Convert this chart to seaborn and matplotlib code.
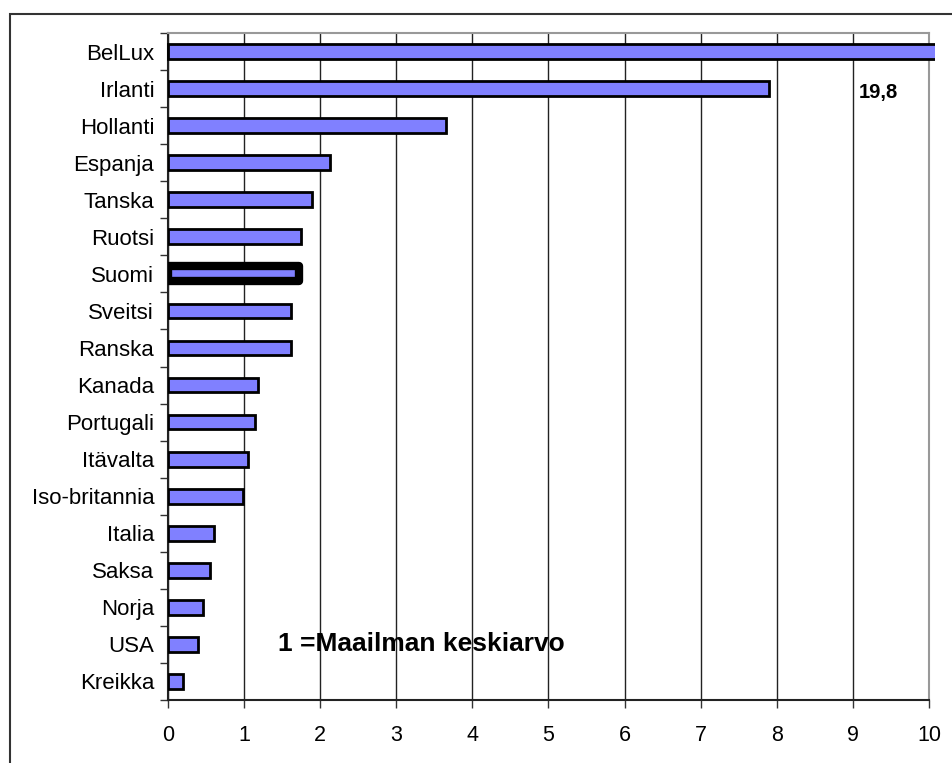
import numpy as np
import pandas as pd
import seaborn as sns
import matplotlib.pyplot as plt
from matplotlib.patches import Rectangle
from matplotlib.transforms import Bbox, TransformedBbox

# data
countries = ["BelLux", "Irlanti", "Hollanti", "Espanja", "Tanska", "Ruotsi", "Suomi",
             "Sveitsi", "Ranska", "Kanada", "Portugali", "Itävalta", "Iso-britannia",
             "Italia", "Saksa", "Norja", "USA", "Kreikka"]
values = [19.8, 7.9, 3.65, 2.13, 1.89, 1.75, 1.72, 1.62, 1.62, 1.18, 1.14, 1.05,
          0.99, 0.6, 0.55, 0.46, 0.40, 0.2]
xticks = list(range(0, 11))

df = pd.DataFrame({"maa": countries, "arvo": values})

sns.set_style("white")
plt.rcParams["font.family"] = ["Liberation Sans", "DejaVu Sans"]
plt.rcParams["text.color"] = "black"
plt.rcParams["xtick.color"] = "black"
plt.rcParams["ytick.color"] = "black"

fig = plt.figure(figsize=(9.52, 7.63), dpi=100)
ax = fig.add_axes([0.1765, 0.0826, 0.7993, 0.8741])

sns.barplot(data=df, x="arvo", y="maa", orient="h", color="#8080FF", saturation=1,
            edgecolor="black", linewidth=2, width=0.4, ax=ax, zorder=3)

# Suomi highlighted with a thick border; BelLux runs a little past the frame
for p, c in zip(ax.patches, countries):
    if c == "Suomi":
        p.set_linewidth(6)
        p.set_joinstyle("round")
    if c == "BelLux":
        p.set_clip_box(TransformedBbox(Bbox([[-0.1, -0.5], [10.08, 17.5]]), ax.transData))

ax.set_xlim(0, 10)
ax.set_ylim(17.5, -0.5)
ax.set_xticks(xticks)
ax.set_xticklabels([str(t) for t in xticks])
ax.set_xlabel("")
ax.set_ylabel("")
ax.tick_params(axis="x", labelsize=15.5, length=6, width=1, color="#333333",
               direction="out", pad=12, bottom=True)
ax.tick_params(axis="y", which="major", labelsize=16, length=0, pad=10)
ax.set_yticks(np.arange(-0.5, 18, 1), minor=True)
ax.tick_params(axis="y", which="minor", length=6, width=1, color="#333333",
               direction="out", left=True)

ax.grid(axis="x", color="#222222", linewidth=1, zorder=0)
ax.grid(axis="y", visible=False)

for side in ["left", "bottom"]:
    ax.spines[side].set_color("#222222")
    ax.spines[side].set_linewidth(1.5)
for side in ["top", "right"]:
    ax.spines[side].set_color("#999999")
    ax.spines[side].set_linewidth(1.5)

ax.text(9.33, 1.1, "19,8", fontsize=14.5, fontweight="bold", ha="center", va="center")
ax.text(3.33, 16, "1 =Maailman keskiarvo", fontsize=19, fontweight="bold",
        ha="center", va="center", zorder=5)

# outer chart frame (left and top edges visible)
fig.patches.append(Rectangle((10 / 952, -0.1), 1.2, 1 - 14 / 763 + 0.1,
                             transform=fig.transFigure, fill=False,
                             edgecolor="#333333", linewidth=1.5))

fig.savefig("out.png", dpi=100)
